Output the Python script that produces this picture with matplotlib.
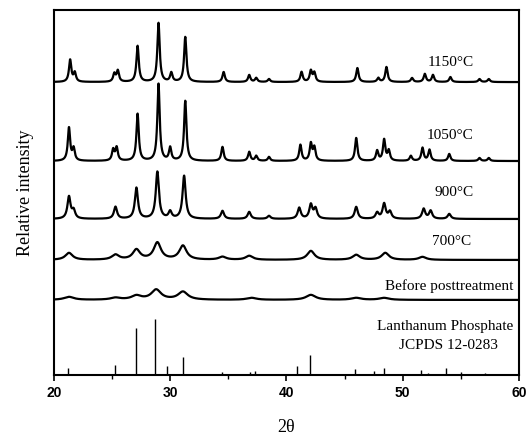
import numpy as np
import matplotlib
matplotlib.use('Agg')
import matplotlib.pyplot as plt
from matplotlib.ticker import MultipleLocator

# peak lists: position (2theta), height (arb.)
pos_1150 = [21.4, 21.8, 25.2, 25.5, 27.2, 29.0, 30.1, 31.3, 34.6, 36.8, 37.4, 38.5,
            41.3, 42.1, 42.4, 46.1, 47.9, 48.6, 50.8, 51.9, 52.6, 54.1, 56.6, 57.4]
h_1150 = [22, 9, 8, 11, 36, 59, 9, 45, 10, 7, 4, 3,
          10, 11, 9, 14, 4, 15, 4, 8, 7, 5, 3, 3]

pos_1050 = [21.3, 21.7, 25.1, 25.4, 27.2, 29.0, 30.0, 31.3, 34.5, 36.8, 37.4, 38.5,
            41.2, 42.1, 42.4, 46.0, 47.8, 48.4, 48.8, 50.7, 51.7, 52.3, 54.0, 56.6, 57.4]
h_1050 = [33, 12, 11, 13, 47, 77, 13, 60, 14, 9, 5, 4,
          16, 17, 13, 23, 10, 21, 10, 5, 13, 11, 7, 3, 3]

pos_900 = [21.3, 21.7, 25.3, 27.1, 28.9, 30.0, 31.2, 34.5, 36.8, 38.5,
           41.1, 42.1, 42.5, 46.0, 47.8, 48.4, 48.9, 51.8, 52.4, 54.0]
h_900 = [22, 8, 12, 31, 47, 7, 43, 8, 7, 3,
         11, 14, 10, 12, 6, 15, 7, 10, 8, 5]

pos_700 = [21.3, 25.3, 27.1, 28.9, 31.1, 34.5, 36.8, 42.1, 46.0, 48.5, 51.7]
h_700 = [7, 5, 10, 17, 14, 3, 4, 9, 5, 7, 3]

pos_before = [21.3, 25.3, 27.1, 28.8, 31.1, 37.0, 42.1, 46.0, 48.4]
h_before = [3, 2, 4, 10, 8, 2, 5, 2, 2]

# JCPDS 12-0283 stick pattern
ref_pos = [21.2, 25.3, 27.1, 28.7, 29.7, 31.1, 34.5, 36.9, 37.3, 40.9, 42.0,
           45.9, 47.5, 48.4, 51.6, 52.2, 53.7, 55.0, 57.1]
ref_h = [7, 10, 47, 56, 9, 18, 3, 3, 4, 9, 20, 6, 4, 7, 5, 2, 7, 3, 2]

labels = ['1150°C', '1050°C', '900°C', '700°C', 'Before posttreatment']

plt.rcParams['font.family'] = ['Liberation Serif', 'DejaVu Serif']


def pattern(x, pos, h, w):
    y = np.zeros_like(x)
    for p, a in zip(pos, h):
        y += a / (1 + ((x - p) / (w / 2)) ** 2)
    return y


x = np.linspace(20, 60, 3000)
series = [(pos_1150, h_1150, 0.24), (pos_1050, h_1050, 0.24), (pos_900, h_900, 0.32),
          (pos_700, h_700, 0.75), (pos_before, h_before, 1.0)]
offsets = [293, 214, 156, 115, 75]
label_x = [56.1, 56.1, 56.1, 55.9, 59.5]
label_y = [313, 240, 182, 133, 89]

fig = plt.figure(figsize=(5.28, 4.4), dpi=100)
ax = fig.add_axes([0.102, 0.148, 0.881, 0.829])

for (pos, h, w), off, lab, lx, ly in zip(series, offsets, labels, label_x, label_y):
    ax.plot(x, pattern(x, pos, h, w) + off, color='black', lw=1.6)
    ax.text(lx, ly, lab, ha='right', va='center', fontsize=11)

ax.vlines(ref_pos, 0, ref_h, color='black', lw=1.0)
ax.text(59.5, 48, 'Lanthanum Phosphate', ha='right', va='center', fontsize=11)
ax.text(53.9, 29, 'JCPDS 12-0283', ha='center', va='center', fontsize=11)

ax.set_xlim(20, 60)
ax.set_ylim(0, 365)
ax.set_yticks([])
ax.xaxis.set_major_locator(MultipleLocator(10))
ax.xaxis.set_minor_locator(MultipleLocator(5))
ax.tick_params(axis='x', direction='out', length=4, width=1.2, pad=4)
ax.tick_params(axis='x', which='minor', direction='out', length=3, width=1.0)
for lab in ax.get_xticklabels():
    lab.set_fontfamily('Liberation Sans')
    lab.set_fontweight('bold')
    lab.set_fontsize(10)
for s in ax.spines.values():
    s.set_linewidth(1.5)

ax.set_xlabel('2θ', fontsize=13, labelpad=14)
ax.set_ylabel('Relative intensity', fontsize=13, labelpad=14)

plt.savefig('out.png', dpi=100)
